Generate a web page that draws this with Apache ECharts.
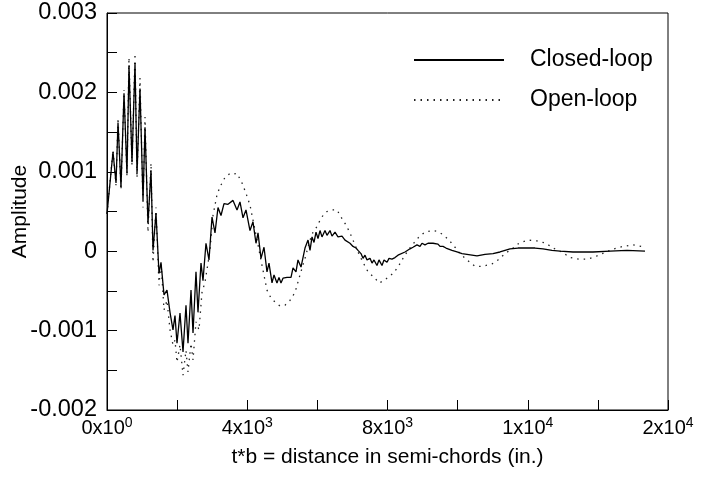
<!DOCTYPE html>
<html>
<head>
<meta charset="utf-8">
<script src="https://cdn.jsdelivr.net/npm/echarts@6/dist/echarts.min.js"></script>
<style>
html,body{margin:0;padding:0;background:#fff;}
#chart{width:701px;height:478px;}
</style>
</head>
<body>
<div id="chart"></div>
<script>
// ---- data ----
const closedDistance = [0,171,257,314,399,485,570,627,713,799,856,941,1027,1084,1169,1255,1312,1397,1483,1540,
  1626,1711,1797,1882,1939,1996,2082,2168,2253,2310,2396,2453,2538,2595,2681,2738,2823,2909,2995,3080,
  3166,3251,3337,3451,3594,3708,3793,3879,3964,4078,4164,4249,4307,4392,4478,4563,4620,4706,4763,4848,
  4905,4962,5020,5134,5248,5305,5390,5447,5533,5590,5647,5733,5790,5847,5904,5961,6018,6075,6132,6217,
  6274,6360,6417,6503,6588,6702,6788,6930,7016,7101,7159,7244,7301,7358,7415,7501,7558,7615,7700,7757,
  7843,7900,7986,8043,8128,8214,8299,8356,8499,8642,8727,8841,8927,8984,9069,9155,9212,9298,9355,9440,
  9497,9583,9668,9725,9839,9982,10125,10267,10410,10552,10781,11009,11208,11494,11722,11978,12207,12435,12691,12920,
  13290,13633,13861,14346,14830,15344];
const closedAmplitude = [0.00047,0.00125,0.00086,0.00162,0.00081,0.00199,0.00098,0.00234,0.00112,0.00237,0.00098,0.00205,0.00064,0.00156,0.00035,0.00102,0.00001,0.00048,-0.00028,-0.00014,
  -0.00055,-0.00049,-0.00077,-0.00099,-0.00081,-0.00116,-0.00078,-0.00127,-0.00068,-0.00116,-0.00049,-0.00103,-0.00026,-0.00077,-0.00015,-0.00037,0.0001,-0.00011,0.00043,0.00023,
  0.00055,0.00045,0.0006,0.00059,0.00064,0.00052,0.00062,0.00042,0.00052,0.00026,0.00037,0.0001,0.00023,-0.00009,0.00005,-0.00026,-0.00015,-0.0004,-0.0003,-0.0004,
  -0.00033,-0.0004,-0.00034,-0.00033,-0.00033,-0.00021,-0.00026,-0.00011,-0.0002,-0.00008,0.00004,0.00014,0.00001,0.00018,0.00011,0.00024,0.00016,0.00026,0.00018,0.00026,
  0.0002,0.00026,0.00019,0.00024,0.00018,0.00019,0.00014,0.0001,0.00006,0.00004,0.00001,-0.00003,-0.00009,-0.00005,-0.00011,-0.00009,-0.00015,-0.00011,-0.00018,-0.00011,
  -0.00018,-0.00011,-0.00014,-0.00009,-0.0001,-0.00008,-0.00005,-0.00004,-0.00001,0.00003,0.00005,0.00008,0.00006,0.0001,0.00008,0.0001,0.00008,0.0001,0.00008,0.00009,
  0.00006,0.00006,0.00004,0.00003,0.00001,-0.00001,-0.00003,-0.00004,-0.00005,-0.00006,-0.00004,-0.00003,-0.00001,0.00003,0.00004,0.00004,0.00004,0.00003,0.00001,0,
  -0.00001,-0.00001,-0.00001,0,0.00001,0];

const openDistance = [0,171,257,314,399,485,570,627,713,799,856,941,1027,1084,1169,1255,1312,1397,1483,1540,
  1626,1711,1797,1882,1939,1996,2082,2168,2253,2310,2396,2453,2538,2624,2709,2795,2938,3023,3137,3223,
  3365,3508,3594,3708,3850,3964,4078,4164,4307,4421,4563,4677,4791,4934,5077,5219,5362,5504,5647,5790,
  5875,5989,6075,6160,6274,6417,6560,6674,6816,6930,7044,7159,7301,7444,7644,7757,7900,8014,8157,8299,
  8442,8585,8727,8898,9069,9269,9412,9583,9754,9925,10068,10267,10495,10723,10980,11151,11351,11551,11750,12007,
  12264,12520,12720,12977,13205,13461,13718,13975,14231,14459,14716,15002,15258];
const openAmplitude = [0.00047,0.00127,0.00083,0.00168,0.00077,0.00203,0.00094,0.00244,0.00108,0.00249,0.00092,0.00218,0.00055,0.00169,0.00024,0.00111,-0.00014,0.00055,-0.00043,-0.00014,
  -0.00074,-0.00062,-0.00099,-0.00118,-0.00112,-0.0014,-0.00118,-0.00156,-0.00125,-0.00152,-0.00116,-0.00137,-0.00089,-0.00099,-0.00052,-0.00039,0.00001,0.00045,0.00071,0.00081,
  0.00093,0.00098,0.00097,0.00098,0.00086,0.00073,0.00058,0.00039,0.00008,-0.00018,-0.00049,-0.00059,-0.00064,-0.00069,-0.00068,-0.00062,-0.00052,-0.0003,-0.00009,0.00014,
  0.00024,0.00031,0.00039,0.00045,0.0005,0.00052,0.00052,0.00043,0.00033,0.00023,0.00011,-0.00001,-0.00014,-0.00026,-0.00034,-0.0004,-0.00037,-0.00033,-0.00028,-0.0002,
  -0.00009,0.00001,0.00009,0.00018,0.00024,0.00026,0.00025,0.00021,0.00014,0.00005,-0.00003,-0.00011,-0.00019,-0.00019,-0.00016,-0.00011,-0.00003,0.00003,0.0001,0.00014,
  0.00013,0.0001,0.00004,-0.00001,-0.00008,-0.0001,-0.0001,-0.00006,-0.00001,0.00003,0.00006,0.00008,0.00006];

const seriesNames = ['Closed-loop', 'Open-loop'];
const xTickMantissa = ['0', '4', '8', '1', '2'];
const xTickExponent = ['0', '3', '3', '4', '4'];
const yTickLabels = ['-0.002', '-0.001', '0', '0.001', '0.002', '0.003'];
const xTitle = 't*b = distance in semi-chords (in.)';
const yTitle = 'Amplitude';

// ---- chart ----
const FONT = '"Liberation Sans", Arial, Helvetica, sans-serif';
const pairs = (xs, ys) => xs.map((x, i) => [x, ys[i]]);
const chart = echarts.init(document.getElementById('chart'), null, {renderer: 'canvas'});
chart.setOption({
  animation: false,
  backgroundColor: '#fff',
  grid: {left: 107, top: 13, width: 561, height: 397, containLabel: false, outerBoundsMode: 'none',
         show: true, borderColor: '#000', borderWidth: 1, backgroundColor: 'transparent'},
  legend: {
    orient: 'vertical', left: 413, top: 47, padding: 0,
    itemWidth: 90, itemHeight: 14, itemGap: 14,
    data: seriesNames,
    itemStyle: {opacity: 0, borderWidth: 0},
    textStyle: {fontSize: 23, fontFamily: FONT, color: '#000', lineHeight: 26, padding: [0, 0, 0, 21]}
  },
  xAxis: {
    type: 'value', min: 0, max: 16000, interval: 4000,
    name: xTitle, nameLocation: 'middle', nameGap: 37, nameMoveOverlap: false,
    nameTextStyle: {fontSize: 21, fontFamily: FONT, color: '#000'},
    axisLine: {show: true, onZero: false, lineStyle: {color: '#000', width: 1}},
    axisTick: {show: true, inside: true, length: 10, lineStyle: {color: '#000', width: 1}},
    minorTick: {show: true, splitNumber: 2, length: 10, lineStyle: {color: '#000', width: 1}},
    splitLine: {show: false},
    axisLabel: {
      margin: 6, color: '#000',
      formatter: function (v) {
        const i = Math.round(v / 4000);
        return '{m|' + xTickMantissa[i] + 'x10}{e|' + xTickExponent[i] + '}';
      },
      rich: {
        m: {fontSize: 20, fontFamily: FONT, color: '#000'},
        e: {fontSize: 14, fontFamily: FONT, color: '#000', padding: [0, 0, 10, 0]}
      }
    }
  },
  yAxis: {
    type: 'value', min: -0.002, max: 0.003, interval: 0.001,
    name: yTitle, nameLocation: 'middle', nameGap: 76, nameRotate: 90, nameMoveOverlap: false,
    nameTextStyle: {fontSize: 21, fontFamily: FONT, color: '#000'},
    axisLine: {show: true, onZero: false, lineStyle: {color: '#000', width: 1}},
    axisTick: {show: true, inside: true, length: 10, lineStyle: {color: '#000', width: 1}},
    minorTick: {show: true, splitNumber: 2, length: 10, lineStyle: {color: '#000', width: 1}},
    splitLine: {show: false},
    axisLabel: {
      margin: 10, fontSize: 23.5, fontFamily: FONT, color: '#000',
      formatter: function (v) { return yTickLabels[Math.round((v + 0.002) / 0.001)]; }
    }
  },
  series: [
    {
      name: seriesNames[0], type: 'line', symbol: 'none', showSymbol: false,
      data: pairs(closedDistance, closedAmplitude),
      lineStyle: {color: '#000', width: 1.3, type: 'solid'},
      z: 3
    },
    {
      name: seriesNames[1], type: 'line', symbol: 'none', showSymbol: false,
      data: pairs(openDistance, openAmplitude),
      lineStyle: {color: '#222', width: 1.3, type: [1.5, 5]},
      z: 2
    }
  ]
});
</script>
</body>
</html>
